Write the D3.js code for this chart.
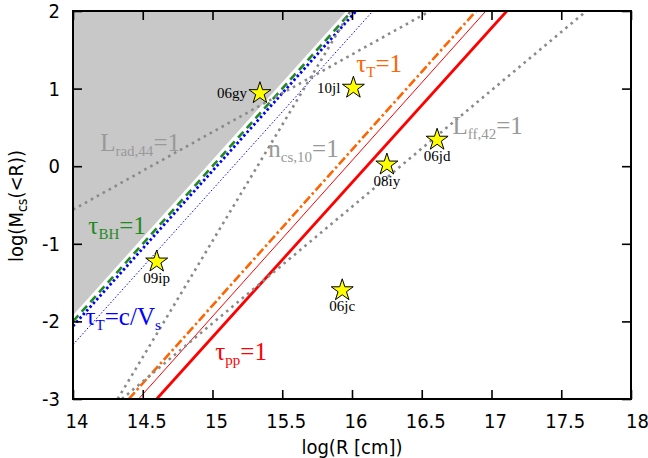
<!DOCTYPE html>
<html>
<head>
<meta charset="utf-8">
<script src="https://cdn.jsdelivr.net/npm/d3@7"></script>
<style>
  html, body { margin: 0; padding: 0; background: #fff; }
  svg { display: block; }
  .axis text { font-family: "DejaVu Sans Condensed", "DejaVu Sans", sans-serif; font-stretch: condensed; font-size: 20px; fill: #000; }
  .axis line { stroke: #000; stroke-width: 1.6; }
  .axis path { display: none; }
  .lab { font-family: "Liberation Serif", "Times New Roman", serif; }
</style>
</head>
<body>
<svg id="chart" width="648" height="458"></svg>
<script>
// Axis ranges and tick labels
const xDomain = [14, 18];
const yDomain = [-3, 2];
const xTicks = [14, 14.5, 15, 15.5, 16, 16.5, 17, 17.5, 18];
const yTicks = [-3, -2, -1, 0, 1, 2];

// Forbidden region above the black-hole line (shaded)
const shadeEdge = [[14, -1.92], [15.96, 2]];

// Boundary lines: endpoints [logR, logM]
const lineNames = ["tauTcV", "tauBH", "tauTcVthin", "tauT1", "tauppThin", "taupp", "Lrad", "ncs", "Lff"];
const lineEnds = [
  [[14, -2.06], [16.03, 2]],
  [[14, -2.0], [16.0, 2]],
  [[14, -2.3], [16.15, 2]],
  [[14.4, -3], [16.89, 2]],
  [[14.47, -3], [16.96, 2]],
  [[14.6, -3], [17.11, 2]],
  [[14, -0.56], [16.56, 2]],
  [[14.32, -3], [15.99, 2]],
  [[14.35, -3], [17.68, 2]]
];
const lineColors = ["#0000ff", "#1f8a1f", "#0000ff", "#ff6400", "#ff0000", "#ff0000", "#8a8a8a", "#8a8a8a", "#8a8a8a"];
const lineWidths = [2.8, 2.6, 1, 2.6, 1, 2.8, 2.6, 2.6, 2.6];
const lineDashes = ["2.5,2.5", "8,5", "1.5,2", "9,3,2.5,3", null, null, "2.6,4.2", "2.6,4.2", "2.6,4.2"];

// Supernovae
const snNames = ["06gy", "10jl", "08iy", "06jd", "09ip", "06jc"];
const snLogR = [15.34, 16.01, 16.25, 16.61, 14.60, 15.93];
const snLogM = [0.94, 1.01, 0.02, 0.34, -1.23, -1.60];
const snLabelSide = ["left", "left", "below", "below", "below", "below"];

// Line labels: main text, subscript, tail text
const tagMain = ["L", "n", "L", "τ", "τ", "τ", "τ"];
const tagSub = ["rad,44", "cs,10", "ff,42", "BH", "T", "T", "pp"];
const tagTail = ["=1", "=1", "=1", "=1", "=c/V", "=1", "=1"];
const tagTail2 = ["", "", "", "", "s", "", ""];
const tagLogR = [14.195, 15.4, 16.72, 14.11, 14.09, 16.03, 15.02];
const tagLogM = [0.2, 0.12, 0.42, -0.87, -2.04, 1.22, -2.5];
const tagColors = ["#999999", "#999999", "#999999", "#1f8a1f", "#0000ff", "#ff6400", "#ff0000"];

const svg = d3.select("#chart");
const W = 648, H = 458;
const margin = { left: 73, right: 17, top: 11, bottom: 59 };
const x = d3.scaleLinear().domain(xDomain).range([margin.left, W - margin.right]);
const y = d3.scaleLinear().domain(yDomain).range([H - margin.bottom, margin.top]);

svg.append("defs").append("clipPath").attr("id", "plotclip")
  .append("rect")
  .attr("x", x(xDomain[0])).attr("y", y(yDomain[1]))
  .attr("width", x(xDomain[1]) - x(xDomain[0]))
  .attr("height", y(yDomain[0]) - y(yDomain[1]));

const plot = svg.append("g").attr("clip-path", "url(#plotclip)");

// shaded region
const shadePts = [[xDomain[0], yDomain[1]], shadeEdge[0], shadeEdge[1]];
plot.append("path")
  .attr("d", d3.line().x(d => x(d[0])).y(d => y(d[1]))(shadePts) + "Z")
  .attr("fill", "#c8c8c8");

// boundary lines
const ln = d3.line().x(d => x(d[0])).y(d => y(d[1]));
lineEnds.forEach((pts, i) => {
  const p = plot.append("path")
    .attr("class", "bound " + lineNames[i])
    .attr("d", ln(pts))
    .attr("fill", "none")
    .attr("stroke", lineColors[i])
    .attr("stroke-width", lineWidths[i]);
  if (lineDashes[i]) p.attr("stroke-dasharray", lineDashes[i]);
});

// line labels
tagMain.forEach((m, i) => {
  const t = svg.append("text").attr("class", "lab")
    .attr("x", x(tagLogR[i])).attr("y", y(tagLogM[i]))
    .attr("fill", tagColors[i]).attr("font-size", 25);
  t.append("tspan").text(m);
  t.append("tspan").attr("font-size", 15).attr("dy", 5).text(tagSub[i]);
  t.append("tspan").attr("dy", -5).text(tagTail[i]);
  if (tagTail2[i]) t.append("tspan").attr("font-size", 15).attr("dy", 5).text(tagTail2[i]);
});

// supernova stars
const star = d3.symbol().type(d3.symbolStar).size(150);
snNames.forEach((n, i) => {
  const cx = x(snLogR[i]), cy = y(snLogM[i]);
  plot.append("path")
    .attr("d", star())
    .attr("transform", `translate(${cx},${cy})`)
    .attr("fill", "#ffff00")
    .attr("stroke", "#000")
    .attr("stroke-width", 1);
  const lbl = svg.append("text").attr("class", "lab")
    .attr("font-size", 15).attr("fill", "#000").text(n);
  if (snLabelSide[i] === "left") {
    lbl.attr("x", cx - 13).attr("y", cy + 5).attr("text-anchor", "end");
  } else {
    lbl.attr("x", cx).attr("y", cy + 21).attr("text-anchor", "middle");
  }
});

// axes with inward ticks on all four sides
const fmt = d => String(d);
svg.append("g").attr("class", "axis")
  .attr("transform", `translate(0,${y(yDomain[0])})`)
  .call(d3.axisBottom(x).tickValues(xTicks).tickFormat(fmt).tickSizeInner(-9).tickSizeOuter(0).tickPadding(15))
  .selectAll("text").attr("dx", d => d === 18 ? 6 : 3.5);
svg.append("g").attr("class", "axis")
  .attr("transform", `translate(0,${y(yDomain[1])})`)
  .call(d3.axisTop(x).tickValues(xTicks).tickFormat("").tickSizeInner(-9).tickSizeOuter(0));
svg.append("g").attr("class", "axis")
  .attr("transform", `translate(${x(xDomain[0])},0)`)
  .call(d3.axisLeft(y).tickValues(yTicks).tickFormat(fmt).tickSizeInner(-9).tickSizeOuter(0).tickPadding(13));
svg.append("g").attr("class", "axis")
  .attr("transform", `translate(${x(xDomain[1])},0)`)
  .call(d3.axisRight(y).tickValues(yTicks).tickFormat("").tickSizeInner(-9).tickSizeOuter(0));

// frame
svg.append("rect")
  .attr("x", x(xDomain[0])).attr("y", y(yDomain[1]))
  .attr("width", x(xDomain[1]) - x(xDomain[0]))
  .attr("height", y(yDomain[0]) - y(yDomain[1]))
  .attr("fill", "none").attr("stroke", "#000").attr("stroke-width", 2);

// axis titles
const titleFont = "'DejaVu Sans Condensed', 'DejaVu Sans', sans-serif";
svg.append("text")
  .attr("x", 352).attr("y", 454)
  .attr("text-anchor", "middle")
  .attr("font-family", titleFont).attr("font-stretch", "condensed").attr("font-size", 20)
  .text("log(R [cm])");
const yt = svg.append("text")
  .attr("transform", "translate(23,206) rotate(-90)")
  .attr("text-anchor", "middle")
  .attr("font-family", titleFont).attr("font-stretch", "condensed").attr("font-size", 20);
yt.append("tspan").text("log(M");
yt.append("tspan").attr("font-size", 14).attr("dy", 4).text("cs");
yt.append("tspan").attr("dy", -4).text("(<R))");
</script>
</body>
</html>
